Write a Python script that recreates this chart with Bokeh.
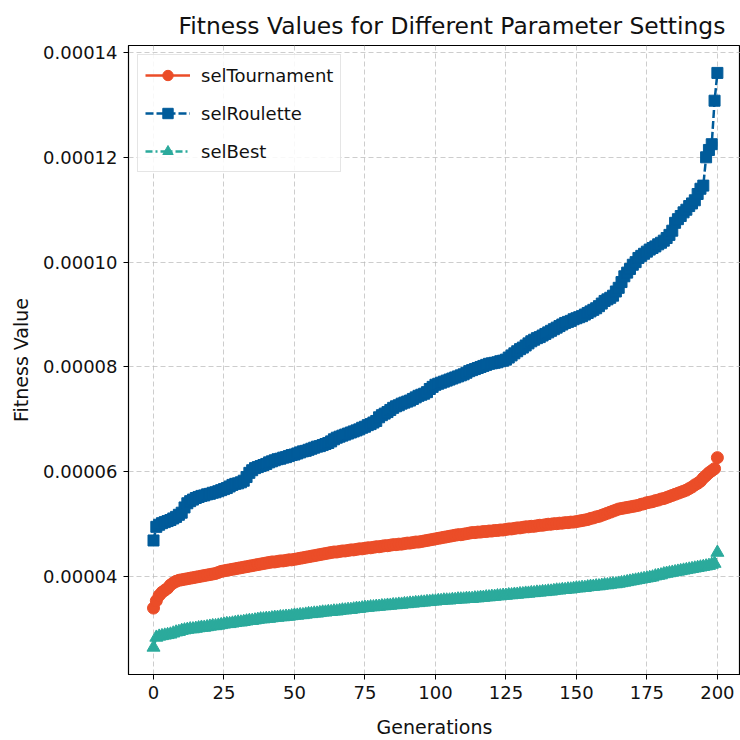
from bokeh.plotting import figure
from bokeh.models import Range1d, FixedTicker, PrintfTickFormatter, ColumnDataSource, Legend, LegendItem
from bokeh.embed import file_html
from bokeh.resources import INLINE

# ---- data (fitness values; listed in units of 1e-5) ----
generations = list(range(201))

SCALE = 1e-5
sel_tournament = [v * SCALE for v in (
    3.40, 3.54, 3.64, 3.70, 3.74, 3.78, 3.84, 3.88, 3.91, 3.93,
    3.94, 3.95, 3.96, 3.97, 3.98, 3.99, 4.00, 4.01, 4.02, 4.03,
    4.04, 4.05, 4.06, 4.08, 4.10, 4.11, 4.12, 4.13, 4.14, 4.15,
    4.16, 4.17, 4.18, 4.19, 4.20, 4.21, 4.22, 4.23, 4.24, 4.25,
    4.26, 4.27, 4.28, 4.28, 4.29, 4.30, 4.30, 4.31, 4.32, 4.32,
    4.33, 4.34, 4.35, 4.36, 4.37, 4.38, 4.39, 4.40, 4.41, 4.42,
    4.43, 4.44, 4.45, 4.46, 4.47, 4.47, 4.48, 4.49, 4.49, 4.50,
    4.51, 4.51, 4.52, 4.53, 4.53, 4.54, 4.55, 4.55, 4.56, 4.57,
    4.57, 4.58, 4.59, 4.59, 4.60, 4.61, 4.61, 4.62, 4.62, 4.63,
    4.64, 4.64, 4.65, 4.66, 4.66, 4.67, 4.68, 4.69, 4.70, 4.71,
    4.72, 4.73, 4.74, 4.75, 4.76, 4.77, 4.78, 4.79, 4.80, 4.80,
    4.81, 4.82, 4.83, 4.84, 4.84, 4.85, 4.85, 4.86, 4.86, 4.87,
    4.87, 4.88, 4.88, 4.89, 4.89, 4.90, 4.91, 4.91, 4.92, 4.93,
    4.93, 4.94, 4.95, 4.95, 4.96, 4.96, 4.97, 4.98, 4.98, 4.99,
    5.00, 5.00, 5.01, 5.01, 5.02, 5.02, 5.03, 5.03, 5.04, 5.04,
    5.05, 5.06, 5.07, 5.08, 5.09, 5.11, 5.12, 5.14, 5.15, 5.17,
    5.19, 5.21, 5.23, 5.25, 5.27, 5.29, 5.30, 5.31, 5.32, 5.33,
    5.34, 5.35, 5.36, 5.38, 5.39, 5.41, 5.42, 5.43, 5.45, 5.46,
    5.48, 5.49, 5.51, 5.53, 5.55, 5.57, 5.59, 5.61, 5.63, 5.65,
    5.68, 5.71, 5.75, 5.78, 5.82, 5.88, 5.93, 5.98, 6.02, 6.06,
    6.27)]

sel_roulette = [v * SCALE for v in (
    4.69, 4.95, 4.99, 5.02, 5.04, 5.06, 5.08, 5.11, 5.14, 5.18,
    5.22, 5.32, 5.40, 5.44, 5.47, 5.50, 5.52, 5.54, 5.55, 5.57,
    5.58, 5.60, 5.61, 5.63, 5.65, 5.67, 5.69, 5.72, 5.75, 5.77,
    5.78, 5.80, 5.83, 5.90, 5.98, 6.03, 6.07, 6.09, 6.11, 6.13,
    6.15, 6.18, 6.20, 6.22, 6.24, 6.25, 6.27, 6.28, 6.30, 6.32,
    6.33, 6.35, 6.37, 6.39, 6.40, 6.42, 6.44, 6.46, 6.48, 6.49,
    6.51, 6.53, 6.55, 6.58, 6.62, 6.65, 6.67, 6.69, 6.71, 6.73,
    6.75, 6.77, 6.79, 6.81, 6.84, 6.86, 6.89, 6.91, 6.94, 6.97,
    7.04, 7.08, 7.11, 7.14, 7.18, 7.22, 7.25, 7.27, 7.30, 7.32,
    7.34, 7.36, 7.39, 7.42, 7.45, 7.47, 7.49, 7.52, 7.58, 7.62,
    7.66, 7.68, 7.70, 7.72, 7.74, 7.76, 7.78, 7.80, 7.82, 7.84,
    7.86, 7.89, 7.92, 7.94, 7.96, 7.98, 8.00, 8.02, 8.04, 8.06,
    8.07, 8.08, 8.09, 8.11, 8.12, 8.14, 8.18, 8.22, 8.26, 8.30,
    8.34, 8.37, 8.41, 8.45, 8.49, 8.52, 8.55, 8.57, 8.60, 8.63,
    8.66, 8.69, 8.72, 8.75, 8.78, 8.81, 8.84, 8.86, 8.88, 8.91,
    8.93, 8.95, 8.97, 9.00, 9.03, 9.06, 9.09, 9.12, 9.16, 9.21,
    9.26, 9.29, 9.32, 9.36, 9.44, 9.51, 9.62, 9.73, 9.80, 9.87,
    9.95, 10.00, 10.08, 10.12, 10.16, 10.20, 10.24, 10.27, 10.30, 10.34,
    10.37, 10.41, 10.46, 10.52, 10.60, 10.75, 10.82, 10.88, 10.95, 11.00,
    11.07, 11.12, 11.18, 11.30, 11.40, 11.46, 12.00, 12.14, 12.25, 13.08,
    13.61)]

sel_best = [v * SCALE for v in (
    2.65, 2.84, 2.86, 2.87, 2.88, 2.89, 2.90, 2.92, 2.94, 2.95,
    2.97, 2.98, 2.99, 3.00, 3.00, 3.01, 3.02, 3.03, 3.03, 3.04,
    3.05, 3.06, 3.06, 3.07, 3.08, 3.09, 3.10, 3.10, 3.11, 3.12,
    3.13, 3.13, 3.14, 3.15, 3.16, 3.16, 3.17, 3.18, 3.19, 3.19,
    3.20, 3.20, 3.21, 3.22, 3.22, 3.23, 3.23, 3.24, 3.24, 3.25,
    3.26, 3.26, 3.27, 3.27, 3.28, 3.29, 3.29, 3.30, 3.30, 3.31,
    3.32, 3.32, 3.33, 3.33, 3.34, 3.34, 3.35, 3.36, 3.36, 3.37,
    3.37, 3.38, 3.39, 3.39, 3.40, 3.41, 3.41, 3.42, 3.42, 3.43,
    3.43, 3.44, 3.44, 3.45, 3.45, 3.46, 3.46, 3.47, 3.47, 3.48,
    3.48, 3.49, 3.49, 3.50, 3.50, 3.51, 3.51, 3.52, 3.52, 3.53,
    3.53, 3.54, 3.54, 3.55, 3.55, 3.55, 3.56, 3.56, 3.57, 3.57,
    3.57, 3.58, 3.58, 3.58, 3.59, 3.59, 3.60, 3.60, 3.61, 3.61,
    3.62, 3.62, 3.63, 3.63, 3.64, 3.64, 3.65, 3.65, 3.66, 3.66,
    3.67, 3.67, 3.68, 3.68, 3.69, 3.69, 3.70, 3.70, 3.71, 3.71,
    3.72, 3.72, 3.73, 3.74, 3.74, 3.75, 3.75, 3.76, 3.76, 3.77,
    3.78, 3.78, 3.79, 3.79, 3.80, 3.81, 3.81, 3.82, 3.82, 3.83,
    3.84, 3.84, 3.85, 3.86, 3.86, 3.87, 3.88, 3.89, 3.90, 3.91,
    3.92, 3.93, 3.94, 3.95, 3.96, 3.97, 3.98, 3.99, 4.01, 4.02,
    4.03, 4.05, 4.06, 4.07, 4.08, 4.09, 4.10, 4.11, 4.12, 4.13,
    4.14, 4.15, 4.16, 4.17, 4.18, 4.19, 4.20, 4.21, 4.23, 4.25,
    4.46)]

series_names = ["selTournament", "selRoulette", "selBest"]
series_colors = ["#EB4D28", "#005B9A", "#2BAA9C"]

x_ticks = [0, 25, 50, 75, 100, 125, 150, 175, 200]
y_ticks = [0.00004, 0.00006, 0.00008, 0.00010, 0.00012, 0.00014]

FONT = "DejaVu Sans"

p = figure(
    width=740, height=740,
    output_backend="svg", toolbar_location=None,
    x_range=Range1d(-8.87, 208.2),
    y_range=Range1d(2.133e-5, 1.4133e-4),
    min_border_left=128, min_border_right=0,
    min_border_top=45, min_border_bottom=65,
)

# title
p.title.text = "Fitness Values for Different Parameter Settings"
p.title.text_font = FONT
p.title.text_font_size = "23.4px"
p.title.text_font_style = "normal"
p.title.text_color = "#111111"
p.title.align = "left"
p.title.offset = 50
p.title.standoff = 12

# frame / spines
p.outline_line_color = "black"
p.outline_line_width = 1.2
p.outline_line_alpha = 1.0
p.background_fill_color = "white"
p.border_fill_color = "white"

# grid
for g in (p.xgrid, p.ygrid):
    g.grid_line_color = "#b8b8b8"
    g.grid_line_alpha = 0.7
    g.grid_line_dash = "5 3"
    g.grid_line_width = 1

p.xgrid.ticker = FixedTicker(ticks=x_ticks)
p.ygrid.ticker = FixedTicker(ticks=y_ticks)

# axes
p.xaxis.ticker = FixedTicker(ticks=x_ticks)
p.yaxis.ticker = FixedTicker(ticks=y_ticks)
p.yaxis.formatter = PrintfTickFormatter(format="%.5f")
p.xaxis.axis_label = "Generations"
p.yaxis.axis_label = "Fitness Value"
for ax in (p.xaxis, p.yaxis):
    ax.axis_label_text_font = FONT
    ax.axis_label_text_font_size = "19px"
    ax.axis_label_text_font_style = "normal"
    ax.axis_label_text_color = "#111111"
    ax.major_label_text_font = FONT
    ax.major_label_text_font_size = "18px"
    ax.major_label_text_color = "#111111"
    ax.major_tick_out = 5
    ax.major_tick_in = 0
    ax.minor_tick_out = 0
    ax.minor_tick_in = 0
    ax.major_tick_line_color = "black"
    ax.axis_line_color = "black"
    ax.major_label_standoff = 6
p.xaxis.axis_label_standoff = 14
p.yaxis.axis_label_standoff = 8

# series
src = ColumnDataSource(dict(
    x=generations, t=sel_tournament, r=sel_roulette, b=sel_best,
))

items = []
l1 = p.line("x", "t", source=src, line_color=series_colors[0], line_width=2.5)
m1 = p.scatter("x", "t", source=src, marker="circle", size=12,
               fill_color=series_colors[0], line_color=series_colors[0])
items.append(LegendItem(label=series_names[0], renderers=[l1, m1]))

l2 = p.line("x", "r", source=src, line_color=series_colors[1], line_width=2.5,
            line_dash="8 3")
m2 = p.scatter("x", "r", source=src, marker="square", size=11,
               fill_color=series_colors[1], line_color=series_colors[1])
items.append(LegendItem(label=series_names[1], renderers=[l2, m2]))

l3 = p.line("x", "b", source=src, line_color=series_colors[2], line_width=2.5,
            line_dash="7 3 2 3")
m3 = p.scatter("x", "b", source=src, marker="triangle", size=13,
               fill_color=series_colors[2], line_color=series_colors[2])
items.append(LegendItem(label=series_names[2], renderers=[l3, m3]))

legend = Legend(items=items, location="top_left")
legend.label_text_font = FONT
legend.label_text_font_size = "18px"
legend.label_text_color = "#111111"
legend.glyph_width = 45
legend.glyph_height = 26
legend.label_height = 26
legend.spacing = 12
legend.padding = 7
legend.margin = 9
legend.label_standoff = 11
legend.border_line_color = "#cccccc"
legend.border_line_width = 1
legend.background_fill_alpha = 0.85
p.add_layout(legend)

open("out.html", "w").write(file_html(p, INLINE))
